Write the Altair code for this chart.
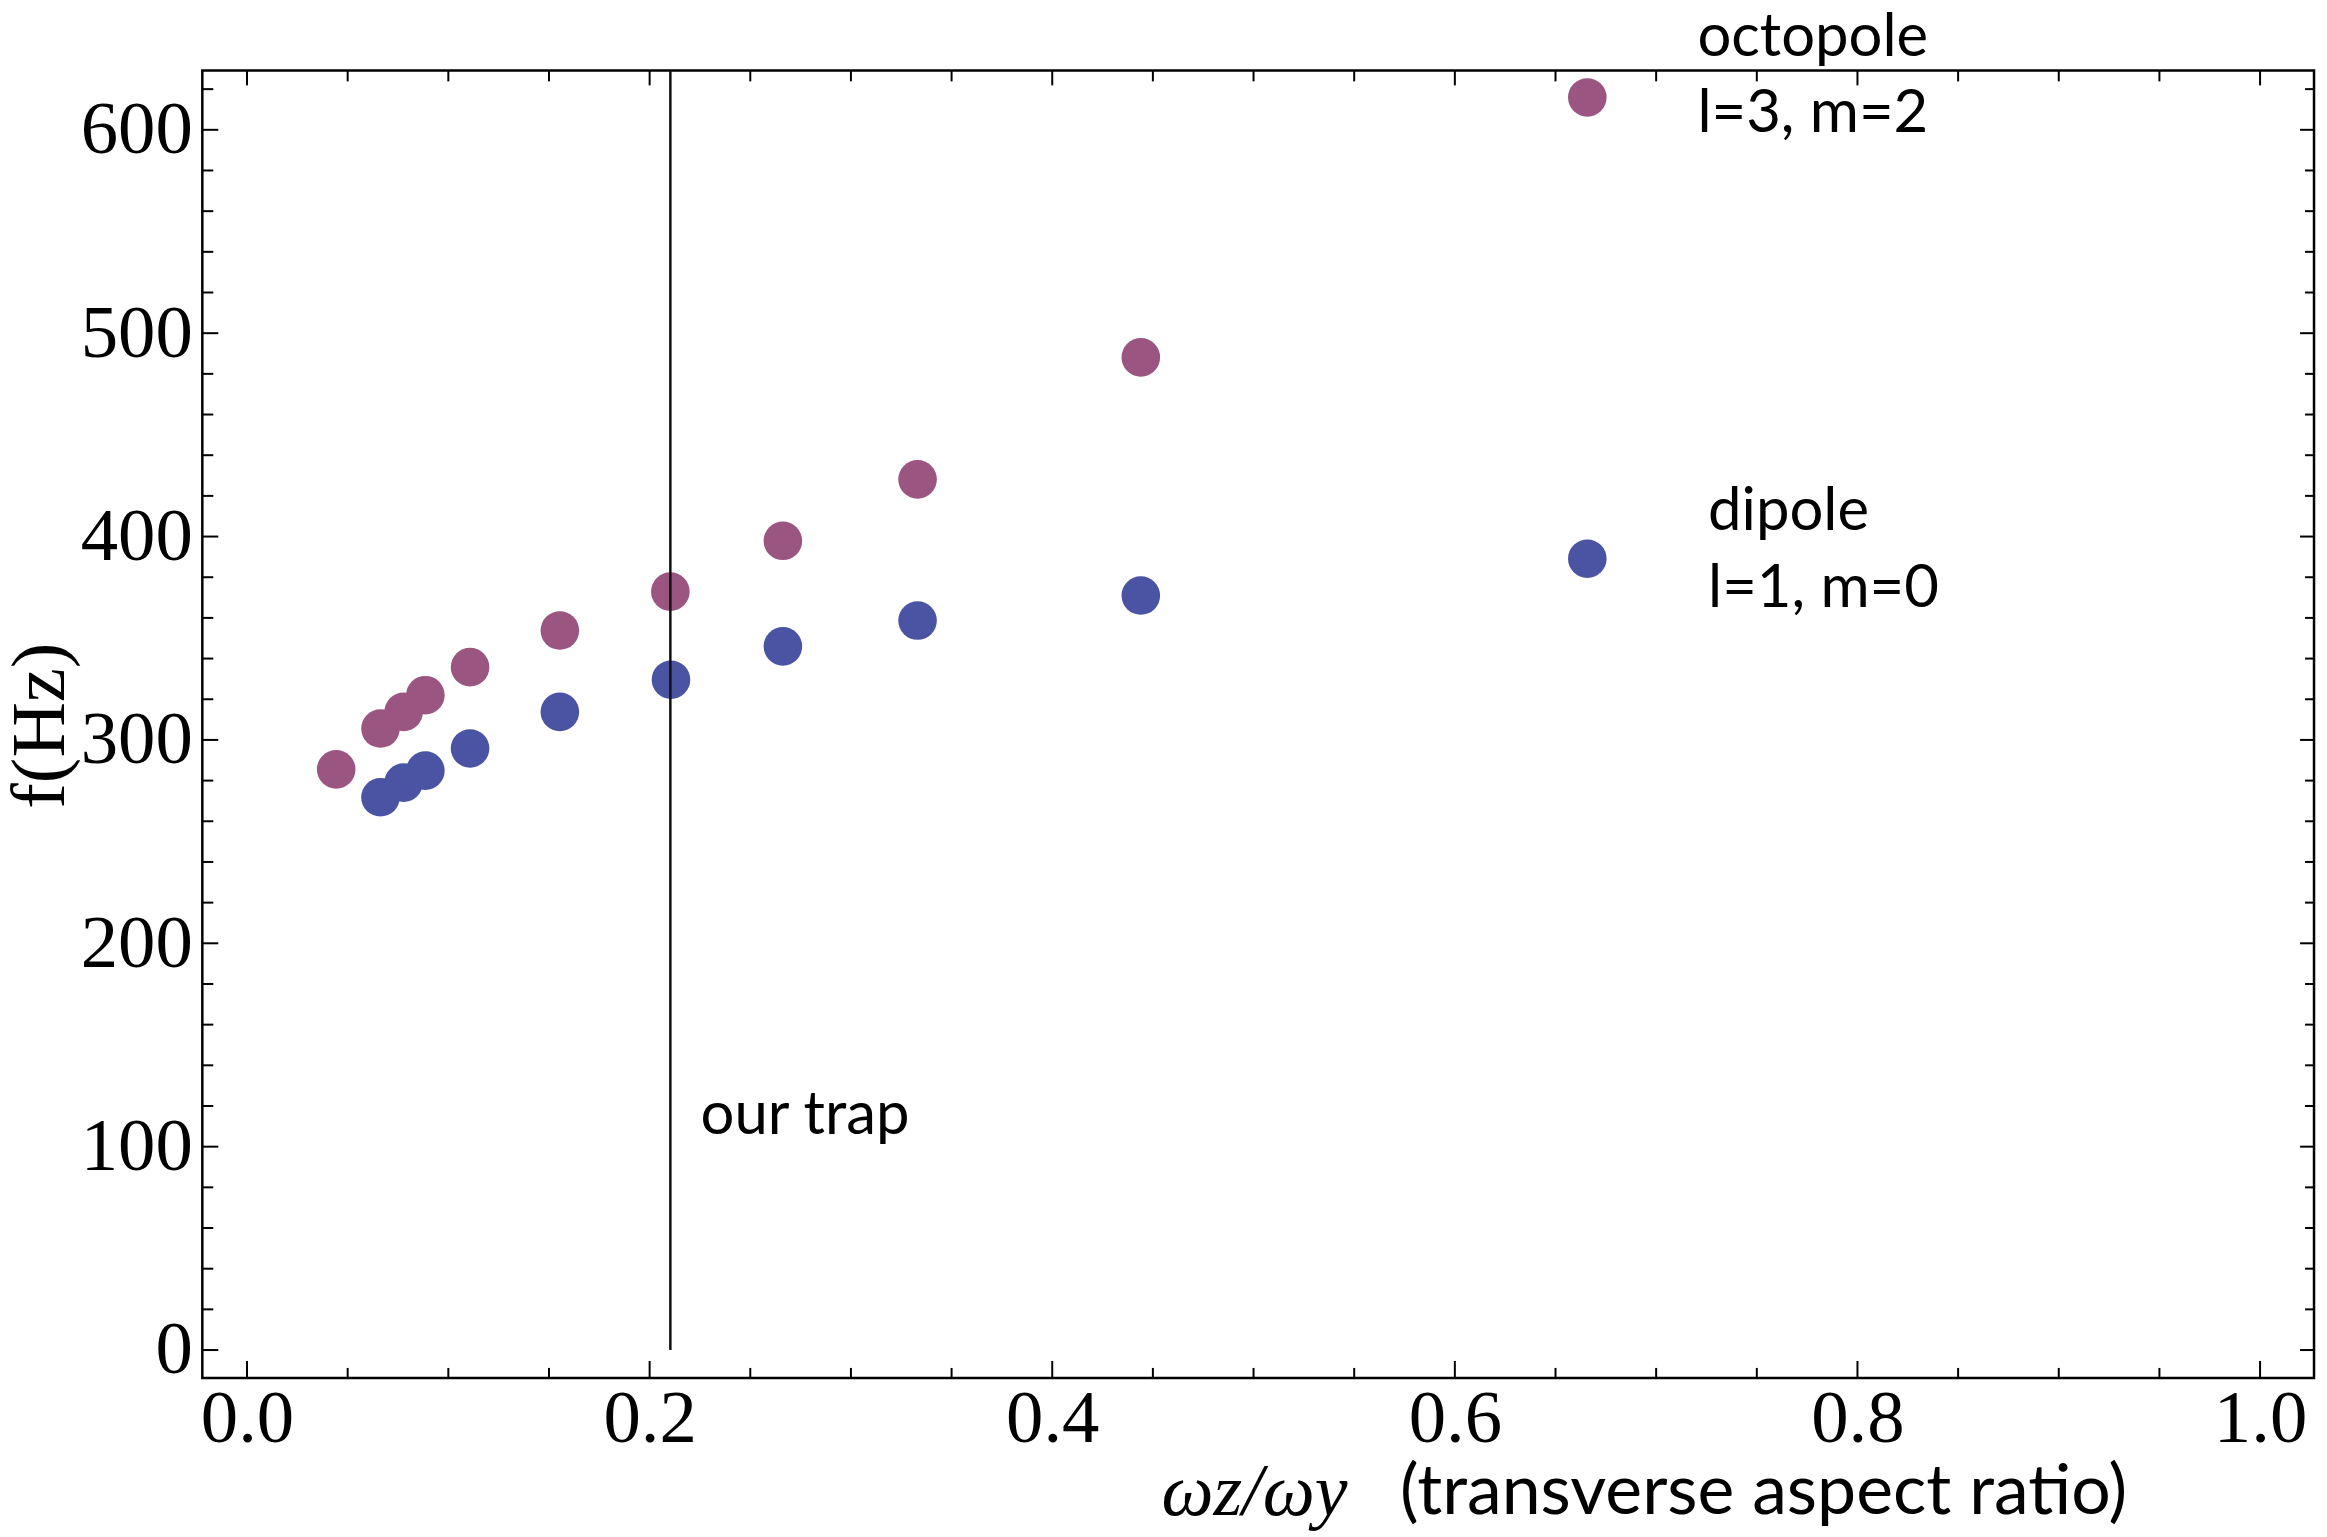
import altair as alt
import pandas as pd

# ---- data ----
octopole_x = [0.0443, 0.0663, 0.0778, 0.0886, 0.1108, 0.1554, 0.2103, 0.2662, 0.3331, 0.4440, 0.6658]
octopole_f = [285.5, 305.6, 313.8, 322.0, 335.8, 353.8, 372.9, 397.9, 428.1, 488.1, 615.9]
dipole_x = [0.0663, 0.0778, 0.0886, 0.1108, 0.1554, 0.2106, 0.2662, 0.3331, 0.4440, 0.6658]
dipole_f = [271.8, 279.0, 284.9, 295.8, 313.8, 329.6, 346.0, 358.7, 371.0, 389.1]
trap_x = [0.2103]

x_major = [0.0, 0.2, 0.4, 0.6, 0.8, 1.0]
x_minor = [0.05, 0.1, 0.15, 0.25, 0.3, 0.35, 0.45, 0.5, 0.55, 0.65, 0.7, 0.75, 0.85, 0.9, 0.95]
y_major = [0, 100, 200, 300, 400, 500, 600]
y_minor = [20, 40, 60, 80, 120, 140, 160, 180, 220, 240, 260, 280, 320, 340, 360, 380,
           420, 440, 460, 480, 520, 540, 560, 580, 620]

ann_text = ["octopole", "l=3, m=2", "dipole", "l=1, m=0", "our trap", "(transverse aspect ratio)"]
ann_x = [0.7205, 0.7205, 0.7258, 0.7258, 0.2253, 0.5727]
ann_y = [636.4, 598.8, 403.3, 365.6, 106.3, -80.7]
ann_size = [60, 60, 60, 60, 60, 70]

x_domain = [-0.0222, 1.0268]
y_domain = [-13.7, 629.2]
modes = ["octopole", "dipole"]
mode_colors = ["#9a5680", "#4a54a3"]

W, H = 2119, 1312
SERIF = "Liberation Serif"
SANS = "Lato"

points = pd.DataFrame({
    "x": octopole_x + dipole_x,
    "f": octopole_f + dipole_f,
    "mode": ["octopole"] * len(octopole_x) + ["dipole"] * len(dipole_x),
})

xs = alt.Scale(domain=x_domain, nice=False, zero=False)
ys = alt.Scale(domain=y_domain, nice=False, zero=False)

x_axis = alt.Axis(values=x_major, format=".1f", ticks=False, domain=False, grid=False,
                  labelFont=SERIF, labelFontSize=75, labelColor="black", labelPadding=5,
                  title="ωz/ωy", titleFont=SERIF, titleFontSize=74, titleFontWeight="normal",
                  titleFontStyle="italic",
                  titleColor="black", titleAlign="left", titleBaseline="alphabetic",
                  titleX=962, titleY=137, labelFlush=False, labelOverlap=False)
y_axis = alt.Axis(values=y_major, format="d", ticks=False, domain=False, grid=False,
                  labelFont=SERIF, labelFontSize=75, labelColor="black", labelPadding=10,
                  title="f(Hz)", titleFont=SERIF, titleFontSize=77, titleFontWeight="normal",
                  titleColor="black", titleAlign="center", titleBaseline="middle",
                  titleAngle=270, titleX=-162, titleY=657, labelFlush=False, labelOverlap=False)


def X():
    return alt.X("x:Q", scale=xs, axis=x_axis)


def Y():
    return alt.Y("f:Q", scale=ys, axis=y_axis)


pts = alt.Chart(points).mark_circle(size=1500, opacity=1).encode(
    x=X(), y=Y(),
    color=alt.Color("mode:N", scale=alt.Scale(domain=modes, range=mode_colors), legend=None),
    order=alt.Order("x:Q"),
)

trap = alt.Chart(pd.DataFrame({"x": trap_x, "f": [0.0]})).mark_rule(
    color="#111111", strokeWidth=2.5
).encode(x=X(), y=Y(), y2=alt.value(0))

ydf_major = pd.DataFrame({"f": y_major})
ydf_minor = pd.DataFrame({"f": y_minor})
xdf_major = pd.DataFrame({"x": x_major})
xdf_minor = pd.DataFrame({"x": x_minor})


def yticks(df, x0, x1):
    return alt.Chart(df).mark_rule(color="black", strokeWidth=2).encode(
        y=Y(), x=alt.value(x0), x2=alt.value(x1))


def xticks(df, y0, y1):
    return alt.Chart(df).mark_rule(color="black", strokeWidth=2).encode(
        x=X(), y=alt.value(y0), y2=alt.value(y1))


ticks = [
    yticks(ydf_major, 0, 16), yticks(ydf_minor, 0, 11),
    yticks(ydf_major, W, W - 14), yticks(ydf_minor, W, W - 9),
    xticks(xdf_major, H, H - 17), xticks(xdf_minor, H, H - 10),
    xticks(xdf_major, 0, 15), xticks(xdf_minor, 0, 11),
]

ann = pd.DataFrame({"t": ann_text, "x": ann_x, "f": ann_y, "s": ann_size})
labels = alt.Chart(ann).mark_text(
    font=SANS, align="left", baseline="alphabetic", color="black"
).encode(
    x=X(), y=Y(),
    text="t:N",
    size=alt.Size("s:Q", scale=None, legend=None),
)

chart = alt.layer(pts, trap, *ticks, labels).properties(
    width=W, height=H,
    autosize=alt.AutoSizeParams(type="none"),
    padding={"left": 195, "top": 60, "right": 5, "bottom": 155},
    background="white",
).configure_view(
    stroke="black", strokeWidth=2.5
)

chart.save("out.html", embed_options={"renderer": "svg", "actions": False})
